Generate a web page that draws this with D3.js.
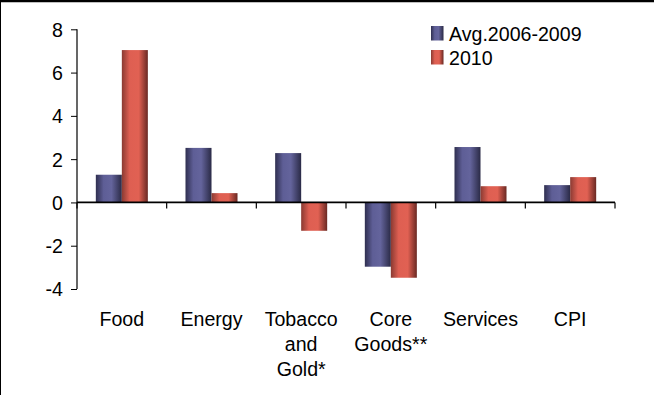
<!DOCTYPE html>
<html>
<head>
<meta charset="utf-8">
<script src="https://cdn.jsdelivr.net/npm/d3@7"></script>
<style>
  html, body { margin: 0; padding: 0; background: #fff; }
  svg { display: block; }
  text { font-family: "Liberation Sans", Arial, sans-serif; fill: #000; }
</style>
</head>
<body>
<script>
const categories = [["Food"], ["Energy"], ["Tobacco", "and", "Gold*"], ["Core", "Goods**"], ["Services"], ["CPI"]];
const seriesNames = ["Avg.2006-2009", "2010"];
const avgValues = [1.28, 2.52, 2.28, -2.97, 2.56, 0.8];
const values2010 = [7.04, 0.43, -1.31, -3.48, 0.75, 1.17];
const yTicks = [-4, -2, 0, 2, 4, 6, 8];

(function () {
const W = 654, H = 395;
const FS = "19.6px";
const svg = d3.select("body").append("svg").attr("width", W).attr("height", H);

// gradients
const defs = svg.append("defs");
function grad(id, stops) {
  const g = defs.append("linearGradient").attr("id", id).attr("x1", "0%").attr("x2", "100%").attr("y1", "0%").attr("y2", "0%");
  stops.forEach(s => g.append("stop").attr("offset", s[0]).attr("stop-color", s[1]));
}
grad("gBlue", [["0%", "#2f2f50"], ["30%", "#5e5e96"], ["60%", "#64649c"], ["100%", "#2a2a46"]]);
grad("gRed", [["0%", "#8a3a32"], ["30%", "#de5f52"], ["65%", "#e16153"], ["100%", "#6a2923"]]);
const fills = ["url(#gBlue)", "url(#gRed)"];

// frame
svg.append("line").attr("x1", 0).attr("x2", W).attr("y1", 1).attr("y2", 1).attr("stroke", "#000").attr("stroke-width", 2.5);
svg.append("line").attr("x1", 0.5).attr("x2", 0.5).attr("y1", 0).attr("y2", H).attr("stroke", "#000").attr("stroke-width", 1);

const pLeft = 77, pRight = 615, pTop = 29.3, pBottom = 289;
const x0 = d3.scaleBand().domain(d3.range(categories.length)).range([pLeft, pRight]).padding(0);
const x1 = d3.scaleBand().domain(seriesNames).range([0, x0.bandwidth()]).paddingInner(0).paddingOuter(0.724);
const y = d3.scaleLinear().domain([-4, 8]).range([pBottom, pTop]);

const data = categories.map((c, i) => ({ i, vals: [avgValues[i], values2010[i]] }));

// bars
const groups = svg.append("g").selectAll("g").data(data).join("g")
  .attr("transform", d => `translate(${x0(d.i)},0)`);
groups.selectAll("rect").data(d => d.vals.map((v, k) => ({ v, k })))
  .join("rect")
  .attr("x", d => x1(seriesNames[d.k]))
  .attr("width", x1.bandwidth())
  .attr("y", d => y(Math.max(0, d.v)))
  .attr("height", d => Math.abs(y(d.v) - y(0)))
  .attr("fill", d => fills[d.k]);

// y axis
const yAxis = svg.append("g").attr("transform", `translate(${pLeft},0)`)
  .call(d3.axisLeft(y).tickValues(yTicks).tickSize(6).tickPadding(8).tickFormat(d => String(d)));
yAxis.select(".domain").attr("stroke", "#000").attr("stroke-width", 1.2).attr("d", `M0,${pTop}V${pBottom}`);
yAxis.selectAll(".tick line").attr("stroke", "#000");
yAxis.selectAll(".tick text").style("font-size", FS).attr("font-family", "Liberation Sans, Arial, sans-serif").attr("dy", "0.35em");

// x axis at zero
const xTickPos = d3.range(categories.length + 1).map(i => i === categories.length ? pRight : x0(i));
const xAxisG = svg.append("g");
xAxisG.append("line").attr("x1", pLeft).attr("x2", pRight).attr("y1", y(0)).attr("y2", y(0)).attr("stroke", "#000").attr("stroke-width", 1.8);
xAxisG.selectAll("line.tk").data(xTickPos).join("line").attr("class", "tk")
  .attr("x1", d => d).attr("x2", d => d).attr("y1", y(0)).attr("y2", y(0) + 6).attr("stroke", "#000").attr("stroke-width", 1.2);

// category labels
const labels = svg.append("g").selectAll("text").data(categories).join("text")
  .attr("x", (d, i) => x0(i) + x0.bandwidth() / 2)
  .attr("y", 326)
  .attr("text-anchor", "middle")
  .style("font-size", FS);
labels.selectAll("tspan").data(d => d).join("tspan")
  .attr("x", function () { return d3.select(this.parentNode).attr("x"); })
  .attr("dy", (d, j) => j === 0 ? 0 : 25)
  .text(d => d);

// legend
const legend = svg.append("g").selectAll("g").data(seriesNames).join("g")
  .attr("transform", (d, i) => `translate(431,${26 + i * 24})`);
legend.append("rect").attr("width", 12.5).attr("height", 14.5).attr("fill", (d, i) => fills[i]);
legend.append("text").attr("x", 18).attr("y", 14.5).style("font-size", FS).text(d => d);
})();
</script>
</body>
</html>
